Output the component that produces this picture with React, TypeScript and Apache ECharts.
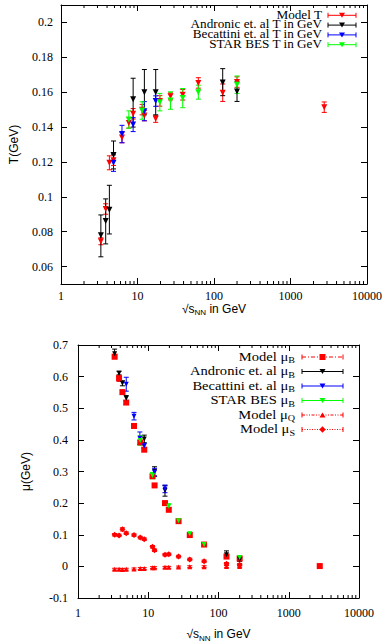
import React, { useEffect, useRef } from 'react';
import * as echarts from 'echarts';

// ---------- axis data ----------
const xRange = [1, 10000];
const xMinorTicks = [
  2, 3, 4, 5, 6, 7, 8, 9,
  20, 30, 40, 50, 60, 70, 80, 90,
  200, 300, 400, 500, 600, 700, 800, 900,
  2000, 3000, 4000, 5000, 6000, 7000, 8000, 9000,
];
const tRange = [0.05, 0.21];
const tTicks = [0.06, 0.08, 0.1, 0.12, 0.14, 0.16, 0.18, 0.2];
const muRange = [-0.1, 0.7];
const muTicks = [-0.1, 0, 0.1, 0.2, 0.3, 0.4, 0.5, 0.6, 0.7];

// ---------- top chart: T (GeV)  [sqrt(s), value, low, high] ----------
const modelT = [
  [3.32, 0.0745, 0.0725, 0.0765],
  [3.84, 0.093, 0.09, 0.096],
  [4.29, 0.1195, 0.1155, 0.1235],
  [4.86, 0.121, 0.118, 0.124],
  [6.27, 0.134, 0.131, 0.137],
  [7.7, 0.1424, 0.1394, 0.1454],
  [8.77, 0.1476, 0.1446, 0.1506],
  [11.5, 0.15, 0.147, 0.153],
  [12.3, 0.1466, 0.1436, 0.1496],
  [17.3, 0.1447, 0.1427, 0.1467],
  [19.6, 0.155, 0.152, 0.158],
  [27, 0.1576, 0.1556, 0.1596],
  [39, 0.1585, 0.1555, 0.1615],
  [62.4, 0.1653, 0.1623, 0.1683],
  [130, 0.1597, 0.1547, 0.1647],
  [200, 0.1658, 0.1628, 0.1688],
  [2760, 0.1514, 0.1484, 0.1544],
];
const andronicT = [
  [3.32, 0.078, 0.0656, 0.0896],
  [3.84, 0.0861, 0.073, 0.0988],
  [4.29, 0.0926, 0.0787, 0.1066],
  [4.86, 0.124, 0.116, 0.132],
  [8.77, 0.156, 0.14, 0.168],
  [12.3, 0.16, 0.147, 0.173],
  [17.3, 0.16, 0.147, 0.173],
  [130, 0.1655, 0.158, 0.1735],
  [200, 0.1604, 0.1547, 0.166],
];
const becattiniT = [
  [4.86, 0.1196, 0.1146, 0.1246],
  [6.27, 0.136, 0.131, 0.141],
  [8.77, 0.1414, 0.1374, 0.1454],
  [12.3, 0.1491, 0.1436, 0.1546],
  [17.3, 0.1549, 0.1519, 0.1579],
];
const starT = [
  [7.7, 0.1443, 0.1393, 0.1493],
  [11.5, 0.1495, 0.1445, 0.1545],
  [19.6, 0.1543, 0.1493, 0.1593],
  [27, 0.1552, 0.1502, 0.1602],
  [39, 0.1566, 0.1511, 0.1621],
  [62.4, 0.16, 0.156, 0.164],
  [200, 0.1643, 0.1593, 0.1693],
];

// ---------- bottom chart: mu (GeV) ----------
const modelMuB = [
  [3.32, 0.663, 0.657, 0.669],
  [3.84, 0.595, 0.585, 0.605],
  [4.29, 0.551, 0.545, 0.557],
  [4.86, 0.518, 0.512, 0.524],
  [6.27, 0.444, 0.438, 0.45],
  [7.7, 0.392, 0.386, 0.398],
  [8.77, 0.369, 0.363, 0.375],
  [11.5, 0.285, 0.279, 0.291],
  [12.3, 0.256, 0.25, 0.262],
  [17.3, 0.2, 0.194, 0.206],
  [19.6, 0.179, 0.173, 0.185],
  [27, 0.143, 0.137, 0.149],
  [39, 0.099, 0.093, 0.105],
  [62.4, 0.069, 0.063, 0.075],
  [130, 0.031, 0.025, 0.037],
  [200, 0.025, 0.019, 0.031],
  [2760, 0.001, -0.004, 0.006],
];
const andronicMuB = [
  [3.32, 0.672, 0.657, 0.687],
  [3.84, 0.611, 0.605, 0.617],
  [4.29, 0.579, 0.571, 0.587],
  [4.86, 0.532, 0.524, 0.54],
  [8.77, 0.403, 0.391, 0.415],
  [12.3, 0.3, 0.285, 0.315],
  [17.3, 0.24, 0.222, 0.256],
  [130, 0.037, 0.025, 0.049],
  [200, 0.022, 0.016, 0.028],
];
const becattiniMuB = [
  [4.86, 0.576, 0.554, 0.598],
  [6.27, 0.475, 0.463, 0.487],
  [7.6, 0.405, 0.385, 0.425],
  [8.77, 0.381, 0.373, 0.389],
  [12.3, 0.298, 0.286, 0.31],
  [17.3, 0.245, 0.233, 0.257],
];
const starMuB = [
  [7.7, 0.398, 0.383, 0.413],
  [11.5, 0.287, 0.277, 0.297],
  [19.6, 0.19, 0.182, 0.198],
  [27, 0.144, 0.139, 0.149],
  [39, 0.103, 0.098, 0.108],
  [62.4, 0.069, 0.064, 0.074],
  [200, 0.028, 0.023, 0.033],
];
const modelMuQ = [
  [3.32, -0.009, -0.012, -0.006],
  [3.84, -0.009, -0.012, -0.006],
  [4.29, -0.01, -0.013, -0.007],
  [4.86, -0.009, -0.012, -0.006],
  [6.27, -0.008, -0.011, -0.005],
  [7.7, -0.007, -0.01, -0.004],
  [8.77, -0.007, -0.01, -0.004],
  [11.5, -0.004, -0.007, -0.001],
  [12.3, -0.004, -0.007, -0.001],
  [17.3, -0.003, -0.006, 0.0],
  [19.6, -0.003, -0.006, 0.0],
  [27, -0.002, -0.005, 0.001],
  [39, -0.001, -0.004, 0.002],
  [62.4, -0.001, -0.004, 0.002],
  [130, 0.0, -0.003, 0.003],
  [200, 0.0, -0.003, 0.003],
  [2760, 0.0, -0.003, 0.003],
];
const modelMuS = [
  [3.32, 0.1, 0.096, 0.104],
  [3.84, 0.098, 0.094, 0.102],
  [4.29, 0.117, 0.112, 0.122],
  [4.86, 0.105, 0.101, 0.109],
  [6.27, 0.099, 0.095, 0.103],
  [7.7, 0.091, 0.087, 0.095],
  [8.77, 0.086, 0.082, 0.09],
  [11.5, 0.062, 0.058, 0.066],
  [12.3, 0.051, 0.047, 0.055],
  [17.3, 0.037, 0.033, 0.041],
  [19.6, 0.038, 0.034, 0.042],
  [27, 0.031, 0.027, 0.035],
  [39, 0.022, 0.018, 0.026],
  [62.4, 0.016, 0.012, 0.02],
  [130, 0.008, 0.004, 0.012],
  [200, 0.005, 0.001, 0.009],
];

const RED = '#ff0000';
const BLACK = '#000000';
const BLUE = '#0000ff';
const GREEN = '#00ff00';
const SERIF = 'Liberation Serif';
const SANS = 'Liberation Sans';

type Marker = 'down' | 'up' | 'square' | 'diamond';

const topSets = [
  { name: 'Model T', data: modelT, color: RED, marker: 'down' as Marker, size: 6, dash: null as any },
  { name: 'Andronic et. al T in GeV', data: andronicT, color: BLACK, marker: 'down' as Marker, size: 6, dash: null },
  { name: 'Becattini et. al T in GeV', data: becattiniT, color: BLUE, marker: 'down' as Marker, size: 6, dash: null },
  { name: 'STAR BES T in GeV', data: starT, color: GREEN, marker: 'down' as Marker, size: 6, dash: null },
];
const bottomSets = [
  { label: ['Model μ', 'B'], data: modelMuB, color: RED, marker: 'square' as Marker, size: 6, dash: [4, 2, 1, 2] },
  { label: ['Andronic et. al μ', 'B'], data: andronicMuB, color: BLACK, marker: 'down' as Marker, size: 5, dash: null },
  { label: ['Becattini et. al μ', 'B'], data: becattiniMuB, color: BLUE, marker: 'down' as Marker, size: 5, dash: null },
  { label: ['STAR BES μ', 'B'], data: starMuB, color: GREEN, marker: 'down' as Marker, size: 5, dash: null },
  { label: ['Model μ', 'Q'], data: modelMuQ, color: RED, marker: 'up' as Marker, size: 5, dash: [3, 1.5, 1, 1.5, 1, 1.5] },
  { label: ['Model μ', 'S'], data: modelMuS, color: RED, marker: 'diamond' as Marker, size: 6, dash: [1, 1.5] },
];

function symbolOf(m: Marker) {
  if (m === 'square') return { symbol: 'rect', rotate: 0 };
  if (m === 'diamond') return { symbol: 'diamond', rotate: 0 };
  if (m === 'up') return { symbol: 'triangle', rotate: 0 };
  return { symbol: 'triangle', rotate: 180 };
}

function errorSeries(data: number[][], color: string, xi: number, yi: number) {
  return {
    type: 'custom',
    xAxisIndex: xi,
    yAxisIndex: yi,
    data,
    encode: { x: 0, y: [2, 3] },
    silent: true,
    z: 2,
    renderItem: (params: any, api: any) => {
      const x = api.value(0);
      const a = api.coord([x, api.value(2)]);
      const b = api.coord([x, api.value(3)]);
      const cap = 2.5;
      const style = { stroke: color, lineWidth: 1 };
      return {
        type: 'group',
        children: [
          { type: 'line', shape: { x1: a[0], y1: a[1], x2: b[0], y2: b[1] }, style },
          { type: 'line', shape: { x1: a[0] - cap, y1: a[1], x2: a[0] + cap, y2: a[1] }, style },
          { type: 'line', shape: { x1: b[0] - cap, y1: b[1], x2: b[0] + cap, y2: b[1] }, style },
        ],
      };
    },
  };
}

function markerSeries(data: number[][], color: string, marker: Marker, size: number, xi: number, yi: number) {
  const s = symbolOf(marker);
  return {
    type: 'scatter',
    xAxisIndex: xi,
    yAxisIndex: yi,
    data: data.map((d) => [d[0], d[1]]),
    symbol: s.symbol,
    symbolRotate: s.rotate,
    symbolSize: size,
    itemStyle: { color, opacity: 1 },
    silent: true,
    z: 3,
  };
}

function minorTickSeries(xi: number, yi: number, yr: number[]) {
  return {
    type: 'custom',
    xAxisIndex: xi,
    yAxisIndex: yi,
    data: xMinorTicks.map((v) => [v, yr[0], yr[1]]),
    encode: { x: 0, y: [1, 2] },
    silent: true,
    clip: false,
    renderItem: (params: any, api: any) => {
      const x = api.value(0);
      const a = api.coord([x, api.value(1)]);
      const b = api.coord([x, api.value(2)]);
      const st = { stroke: '#000', lineWidth: 1 };
      return {
        type: 'group',
        children: [
          { type: 'line', shape: { x1: a[0], y1: a[1], x2: a[0], y2: a[1] - 3 }, style: st },
          { type: 'line', shape: { x1: b[0], y1: b[1], x2: b[0], y2: b[1] + 3 }, style: st },
        ],
      };
    },
  };
}

const xName = '{a|√s}{s|NN}{a| in GeV}';
const nameRich = {
  a: { fontFamily: SANS, fontSize: 12, color: '#000', lineHeight: 16, verticalAlign: 'middle' },
  s: { fontFamily: SANS, fontSize: 8, color: '#000', lineHeight: 9, verticalAlign: 'bottom' },
};

function xAxes(gridIndex: number, labelMargin: number, nameGap: number) {
  const line = { show: true, onZero: false, lineStyle: { color: '#000', width: 1 } };
  return [
    {
      type: 'log', logBase: 10, gridIndex, min: xRange[0], max: xRange[1], position: 'bottom',
      axisLine: line,
      axisTick: { show: true, inside: true, length: 6, lineStyle: { color: '#000' } },
      axisLabel: {
        color: '#000', fontFamily: SERIF, fontSize: 12, margin: labelMargin,
        formatter: (v: number) => String(Math.round(v)),
      },
      splitLine: { show: false },
      name: xName, nameLocation: 'middle', nameGap,
      nameTextStyle: { rich: nameRich },
    },
    {
      type: 'log', logBase: 10, gridIndex, min: xRange[0], max: xRange[1], position: 'top',
      axisLine: line,
      axisTick: { show: true, inside: true, length: 6, lineStyle: { color: '#000' } },
      axisLabel: { show: false },
      splitLine: { show: false },
    },
  ];
}

function yAxes(gridIndex: number, range: number[], ticks: number[], name: string, nameGap: number, margin: number) {
  const line = { show: true, onZero: false, lineStyle: { color: '#000', width: 1 } };
  return [
    {
      type: 'value', gridIndex, min: range[0], max: range[1], position: 'left',
      axisLine: line,
      axisTick: { show: true, inside: true, length: 6, customValues: ticks, lineStyle: { color: '#000' } },
      axisLabel: { color: '#000', fontFamily: SERIF, fontSize: 12, margin, customValues: ticks },
      splitLine: { show: false },
      name, nameLocation: 'middle', nameGap, nameRotate: 90,
      nameTextStyle: { fontFamily: SANS, fontSize: 12, color: '#000' },
    },
    {
      type: 'value', gridIndex, min: range[0], max: range[1], position: 'right',
      axisLine: line,
      axisTick: { show: true, inside: true, length: 6, customValues: ticks, lineStyle: { color: '#000' } },
      axisLabel: { show: false, customValues: ticks },
      splitLine: { show: false },
    },
  ];
}

function legendMarker(m: Marker, cx: number, cy: number, color: string): any {
  if (m === 'square') return { type: 'rect', shape: { x: cx - 3, y: cy - 3, width: 6, height: 6 }, style: { fill: color } };
  if (m === 'diamond') return { type: 'polygon', shape: { points: [[cx, cy - 3.2], [cx + 3.2, cy], [cx, cy + 3.2], [cx - 3.2, cy]] }, style: { fill: color } };
  if (m === 'up') return { type: 'polygon', shape: { points: [[cx - 3, cy + 2.5], [cx + 3, cy + 2.5], [cx, cy - 2.5]] }, style: { fill: color } };
  return { type: 'polygon', shape: { points: [[cx - 3, cy - 2.5], [cx + 3, cy - 2.5], [cx, cy + 2.5]] }, style: { fill: color } };
}

function legendEntry(text: any, rich: any, fontSize: number, sx: number, color: string, marker: Marker, dash: any,
  textRight: number, x1: number, x2: number, y: number) {
  const cap = 2.5;
  return [
    {
      type: 'text', x: textRight, y: y - 0.5, scaleX: sx,
      style: { text, fill: '#000', fontFamily: SERIF, fontSize, align: 'right', verticalAlign: 'middle', rich },
      silent: true,
    },
    { type: 'line', shape: { x1, y1: y, x2, y2: y }, style: { stroke: color, lineWidth: 1, lineDash: dash || undefined }, silent: true },
    { type: 'line', shape: { x1, y1: y - cap, x2: x1, y2: y + cap }, style: { stroke: color, lineWidth: 1 }, silent: true },
    { type: 'line', shape: { x1: x2, y1: y - cap, x2, y2: y + cap }, style: { stroke: color, lineWidth: 1 }, silent: true },
    { ...legendMarker(marker, (x1 + x2) / 2, y, color), silent: true },
  ];
}

export default function App() {
  const ref = useRef<HTMLDivElement>(null);
  useEffect(() => {
    if (!ref.current) return;
    const chart = echarts.init(ref.current, undefined, { renderer: 'svg' });

    const series: any[] = [];
    series.push(minorTickSeries(0, 0, tRange));
    series.push(minorTickSeries(2, 2, muRange));
    topSets.forEach((s) => {
      series.push(errorSeries(s.data, s.color, 0, 0));
      series.push(markerSeries(s.data, s.color, s.marker, s.size, 0, 0));
    });
    bottomSets.forEach((s) => {
      series.push(errorSeries(s.data, s.color, 2, 2));
      series.push(markerSeries(s.data, s.color, s.marker, s.size, 2, 2));
    });

    const graphics: any[] = [];
    const topRows = [15.3, 25.1, 34.9, 44.7];
    topSets.forEach((s, i) => {
      graphics.push(...legendEntry(s.name, undefined, 12, 1.1, s.color, s.marker, s.dash, 322, 328, 356, topRows[i]));
    });
    const subRich = {
      a: { fontFamily: SERIF, fontSize: 13, color: '#000', lineHeight: 16, verticalAlign: 'middle' },
      s: { fontFamily: SERIF, fontSize: 9, color: '#000', lineHeight: 9, verticalAlign: 'bottom' },
    };
    const botRows = [357, 371.5, 386, 400.5, 415, 429.5];
    bottomSets.forEach((s, i) => {
      const text = `{a|${s.label[0]}}{s|${s.label[1]}}`;
      graphics.push(...legendEntry(text, subRich, 13, 1.12, s.color, s.marker, s.dash, 295, 302, 343, botRows[i]));
    });

    chart.setOption({
      animation: false,
      backgroundColor: '#ffffff',
      grid: [
        { left: 61, top: 5, width: 307, height: 279, containLabel: false },
        { left: 78, top: 345, width: 281, height: 253, containLabel: false },
      ],
      xAxis: [...xAxes(0, 6, 13), ...xAxes(1, 9, 28)],
      yAxis: [
        ...yAxes(0, tRange, tTicks, 'T(GeV)', 41, 8),
        ...yAxes(1, muRange, muTicks, 'μ(GeV)', 46, 10),
      ],
      series,
      graphic: graphics,
    });
    return () => chart.dispose();
  }, []);
  return <div ref={ref} style={{ position: 'fixed', left: 0, top: 0, width: 385, height: 644, background: '#fff' }} />;
}
